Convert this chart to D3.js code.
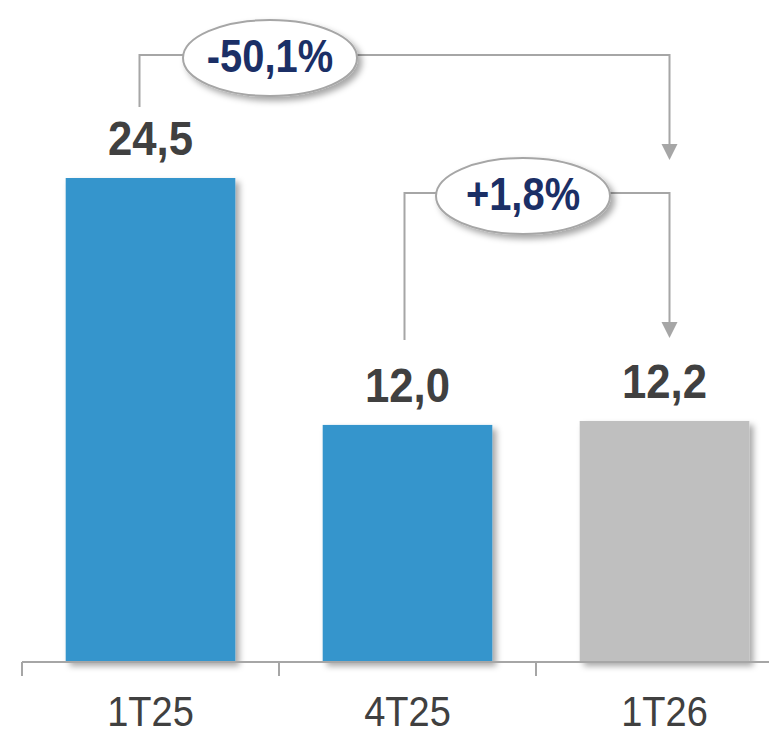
<!DOCTYPE html>
<html>
<head>
<meta charset="utf-8">
<script src="https://cdn.jsdelivr.net/npm/d3@7"></script>
<style>
  body { margin: 0; background: #fff; }
  svg { display: block; font-family: "Liberation Sans", Arial, sans-serif; }
</style>
</head>
<body>
<div id="chart"></div>
<script>
// quarters and their values
const categories = ["1T25", "4T25", "1T26"];
const values = [24.5, 12.0, 12.2];
const valueLabels = ["24,5", "12,0", "12,2"];

// comparison brackets: from bar, to bar, label
const compFrom = [0, 1];
const compTo = [2, 2];
const compLabels = ["-50,1%", "+1,8%"];

const width = 769;
const height = 733;
const baseline = 662;

const svg = d3.select('#chart').append('svg')
  .attr('width', width)
  .attr('height', height);

// soft shadows
const defs = svg.append('defs');
const sh = defs.append('filter').attr('id', 'shadow')
  .attr('x', '-20%').attr('y', '-20%').attr('width', '150%').attr('height', '150%');
sh.append('feDropShadow')
  .attr('dx', 4).attr('dy', 4).attr('stdDeviation', 3)
  .attr('flood-color', '#000').attr('flood-opacity', 0.35);

const x = d3.scaleBand()
  .domain(categories)
  .range([22, 22 + 257 * 3])
  .paddingInner(0.34)
  .paddingOuter(0.17);

const y = d3.scaleLinear()
  .domain([0, 24.5])
  .range([baseline, 178]);

const barColor = (d, i) => i === 2 ? '#bfbfbf' : '#3595cc';

// bars
svg.selectAll('rect.bar')
  .data(values)
  .enter().append('rect')
    .attr('class', 'bar')
    .attr('x', (d, i) => x(categories[i]))
    .attr('y', d => y(d))
    .attr('width', x.bandwidth())
    .attr('height', d => baseline - y(d))
    .style('fill', barColor)
    .attr('filter', 'url(#shadow)');

// axis line + ticks
const step = x.step();
svg.append('line')
  .attr('x1', 22).attr('x2', width)
  .attr('y1', baseline).attr('y2', baseline)
  .style('stroke', '#a6a6a6').style('stroke-width', 2);

svg.selectAll('line.tick')
  .data(categories)
  .enter().append('line')
    .attr('class', 'tick')
    .attr('x1', d => x(d) - x.paddingOuter() * step)
    .attr('x2', d => x(d) - x.paddingOuter() * step)
    .attr('y1', baseline).attr('y2', 676)
    .style('stroke', '#a6a6a6').style('stroke-width', 2);

// category labels (slightly condensed look)
svg.selectAll('text.cat')
  .data(categories)
  .enter().append('text')
    .attr('class', 'cat')
    .attr('transform', d => `translate(${x(d) + x.bandwidth() / 2},726) scale(0.95,1.05)`)
    .attr('text-anchor', 'middle')
    .style('font-size', '40px')
    .style('fill', '#404040')
    .text(d => d);

// value labels
svg.selectAll('text.val')
  .data(values)
  .enter().append('text')
    .attr('class', 'val')
    .attr('transform', (d, i) => `translate(${x(categories[i]) + x.bandwidth() / 2},${y(d) - 23}) scale(0.97,1.05)`)
    .attr('text-anchor', 'middle')
    .style('font-size', '45px')
    .style('font-weight', 'bold')
    .style('fill', '#404040')
    .text((d, i) => valueLabels[i]);

// comparison brackets
const cx = i => x(categories[i]) + x.bandwidth() / 2;
const levels = [55, 193];
const startOffset = [-11, -3];
const startY = [107, 340];
const tipY = [160, 338];
const ellipseX = [270, 523];

compLabels.forEach((lab, k) => {
  const x1 = cx(compFrom[k]) + startOffset[k];
  const x2 = cx(compTo[k]) + 5;
  const top = levels[k];
  const yEnd = tipY[k];

  svg.append('path')
    .attr('d', `M${x1},${startY[k]} V${top} H${x2} V${yEnd - 10}`)
    .style('fill', 'none')
    .style('stroke', '#a6a6a6')
    .style('stroke-width', 2);

  svg.append('path')
    .attr('d', `M${x2 - 8},${yEnd - 16} L${x2 + 8},${yEnd - 16} L${x2},${yEnd} Z`)
    .style('fill', '#a6a6a6');

  svg.append('ellipse')
    .attr('cx', ellipseX[k]).attr('cy', top + 3)
    .attr('rx', 87).attr('ry', 38)
    .style('fill', '#fff')
    .style('stroke', '#a6a6a6')
    .style('stroke-width', 2)
    .attr('filter', 'url(#shadow)');

  svg.append('text')
    .attr('transform', `translate(${ellipseX[k]},${top + 17}) scale(0.95,1.08)`)
    .attr('text-anchor', 'middle')
    .style('font-size', '42px')
    .style('font-weight', 'bold')
    .style('fill', '#1b2f66')
    .text(lab);
});
</script>
</body>
</html>
